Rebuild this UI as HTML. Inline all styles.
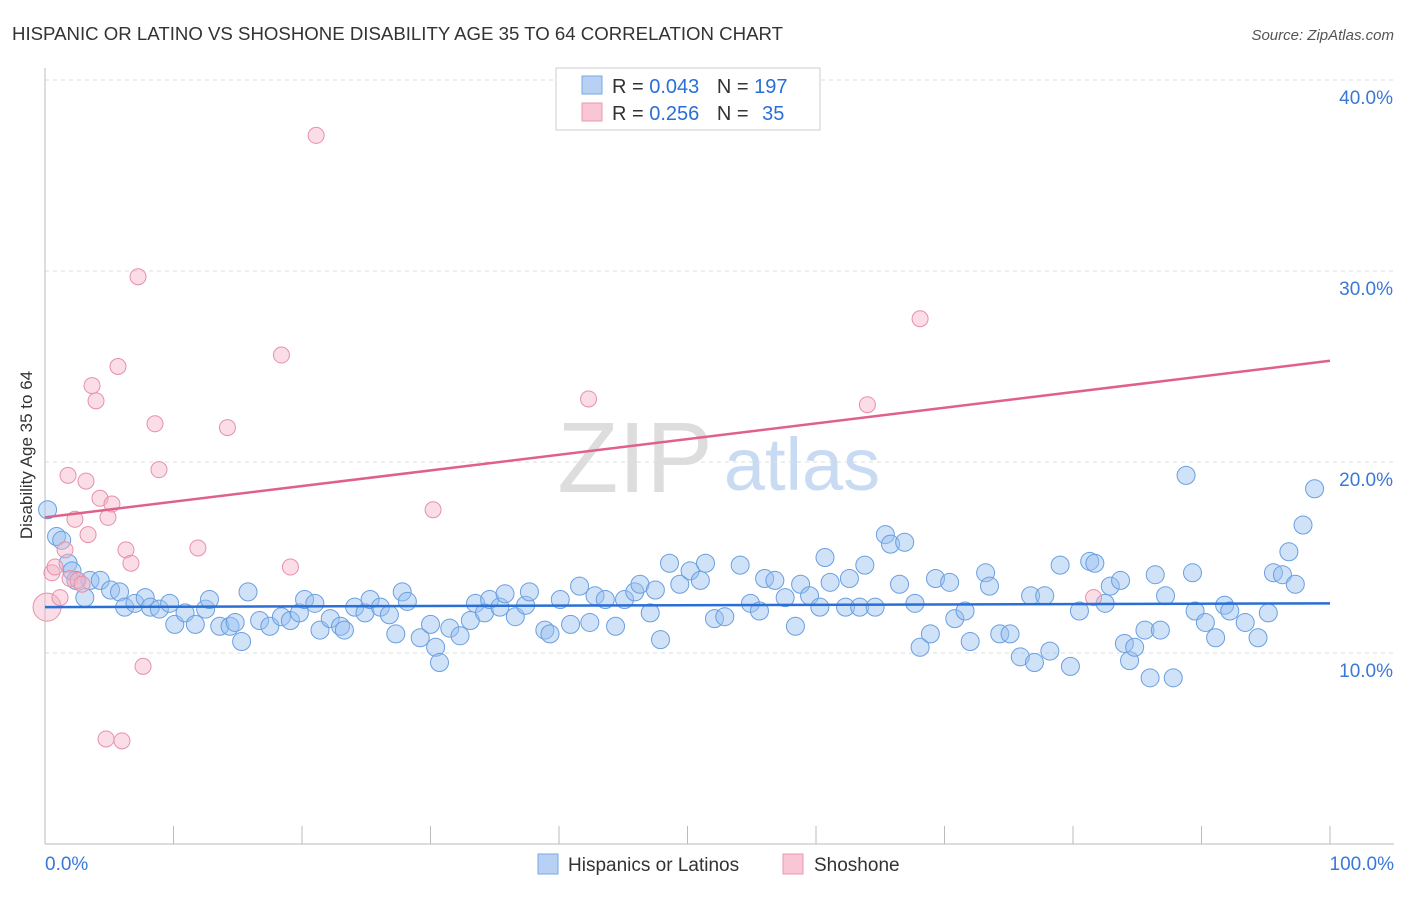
<!DOCTYPE html>
<html><head><meta charset="utf-8"><style>
body{margin:0;background:#fff;font-family:"Liberation Sans",sans-serif;}
svg text{font-family:"Liberation Sans",sans-serif;}
</style></head><body>
<svg id="chart" width="1406" height="892">
<text x="12" y="40" font-size="18" fill="#333" textLength="771" lengthAdjust="spacingAndGlyphs">HISPANIC OR LATINO VS SHOSHONE DISABILITY AGE 35 TO 64 CORRELATION CHART</text>
<text x="1394" y="40" font-size="15" fill="#555" text-anchor="end" font-style="italic">Source: ZipAtlas.com</text>
<text x="32" y="455" font-size="17" fill="#333" text-anchor="middle" transform="rotate(-90 32 455)">Disability Age 35 to 64</text>
<text x="635" y="492" font-size="100" fill="#ddd" text-anchor="middle" font-family="Liberation Serif">ZIP</text>
<text x="802" y="490" font-size="74" fill="#c9dbf3" text-anchor="middle">atlas</text>
<g id="grid"></g><g id="pts"></g><g id="lines"></g>
<g>
<rect x="556" y="68" width="264" height="62" fill="#fff" stroke="#ccc"/>
<rect x="582" y="76" width="20" height="18" fill="#b7d0f3" stroke="#7aa8e4"/>
<text x="612" y="93" font-size="20" fill="#333">R = <tspan fill="#2a6fd6">0.043</tspan>  <tspan dx="12">N = </tspan><tspan fill="#2a6fd6">197</tspan></text>
<rect x="582" y="103" width="20" height="18" fill="#f8c6d4" stroke="#e89ab0"/>
<text x="612" y="120" font-size="20" fill="#333">R =  <tspan fill="#2a6fd6">0.256</tspan>  <tspan dx="12">N = </tspan><tspan fill="#2a6fd6" dx="8">35</tspan></text>
</g>
<g>
<rect x="538" y="854" width="20" height="20" fill="#b7d0f3" stroke="#7aa8e4"/>
<text x="568" y="871" font-size="19" fill="#333">Hispanics or Latinos</text>
<rect x="783" y="854" width="20" height="20" fill="#f8c6d4" stroke="#e89ab0"/>
<text x="814" y="871" font-size="19" fill="#333">Shoshone</text>
</g>
</svg>
<script>
const yTicks=[10,20,30,40];
const xTickLabels=["0.0%","100.0%"];
const blueX=[0.2,0.9,1.3,1.8,2.1,2.4,3.1,3.5,4.3,5.1,5.8,6.2,7.0,7.8,8.2,8.9,9.7,10.1,10.9,11.7,12.5,12.8,13.6,14.4,14.8,15.3,15.8,16.7,17.5,18.4,19.1,19.8,20.2,21.0,21.4,22.2,23.0,23.3,24.1,24.9,25.3,26.1,26.8,27.3,27.8,28.2,29.2,30.0,30.4,30.7,31.5,32.3,33.1,33.5,34.2,34.6,35.4,35.8,36.6,37.4,37.7,38.9,39.3,40.1,40.9,41.6,42.4,42.8,43.6,44.4,45.1,45.9,46.3,47.1,47.5,47.9,48.6,49.4,50.2,51.0,51.4,52.1,52.9,54.1,54.9,55.6,56.0,56.8,57.6,58.4,58.8,59.5,60.3,60.7,61.1,62.3,62.6,63.4,63.8,64.6,65.4,65.8,66.5,66.9,67.7,68.1,68.9,69.3,70.4,70.8,71.6,72.0,73.2,73.5,74.3,75.1,75.9,76.7,77.0,77.8,78.2,79.0,79.8,80.5,81.3,81.7,82.5,82.9,83.7,84.0,84.4,84.8,85.6,86.0,86.4,86.8,87.2,87.8,88.8,89.3,89.5,90.3,91.1,91.8,92.2,93.4,94.4,95.2,95.6,96.3,96.8,97.3,97.9,98.8];
const blueY=[17.5,16.1,15.9,14.7,14.3,13.8,12.9,13.8,13.8,13.3,13.2,12.4,12.6,12.9,12.4,12.3,12.6,11.5,12.1,11.5,12.3,12.8,11.4,11.4,11.6,10.6,13.2,11.7,11.4,11.9,11.7,12.1,12.8,12.6,11.2,11.8,11.4,11.2,12.4,12.1,12.8,12.4,12.0,11.0,13.2,12.7,10.8,11.5,10.3,9.5,11.3,10.9,11.7,12.6,12.1,12.8,12.4,13.1,11.9,12.5,13.2,11.2,11.0,12.8,11.5,13.5,11.6,13.0,12.8,11.4,12.8,13.2,13.6,12.1,13.3,10.7,14.7,13.6,14.3,13.8,14.7,11.8,11.9,14.6,12.6,12.2,13.9,13.8,12.9,11.4,13.6,13.0,12.4,15.0,13.7,12.4,13.9,12.4,14.6,12.4,16.2,15.7,13.6,15.8,12.6,10.3,11.0,13.9,13.7,11.8,12.2,10.6,14.2,13.5,11.0,11.0,9.8,13.0,9.5,13.0,10.1,14.6,9.3,12.2,14.8,14.7,12.6,13.5,13.8,10.5,9.6,10.3,11.2,8.7,14.1,11.2,13.0,8.7,19.3,14.2,12.2,11.6,10.8,12.5,12.2,11.6,10.8,12.1,14.2,14.1,15.3,13.6,16.7,18.6];
const pinkX=[0.16,0.54,0.78,1.17,1.56,1.79,1.95,2.33,2.57,2.88,3.19,3.35,3.66,3.97,4.28,4.9,5.21,5.68,6.3,6.69,7.24,7.63,8.56,8.87,11.9,14.2,18.4,19.1,21.1,30.2,42.3,64.0,68.1,81.6,4.75,5.99];
const pinkY=[12.4,14.2,14.5,12.9,15.4,19.3,13.9,17.0,13.8,13.6,19.0,16.2,24.0,23.2,18.1,17.1,17.8,25.0,15.4,14.7,29.7,9.3,22.0,19.6,15.5,21.8,25.6,14.5,37.1,17.5,23.3,23.0,27.5,12.9,5.5,5.4];
const blueTrend=[12.4,12.6];
const pinkTrend=[17.1,25.3];
const X0=45,X1=1330,YB=844,PY=19.1;
const sx=v=>X0+(X1-X0)*v/100, sy=v=>YB-v*PY;
const NS="http://www.w3.org/2000/svg";
function mk(t,a,p){const e=document.createElementNS(NS,t);for(const k in a)e.setAttribute(k,a[k]);p.appendChild(e);return e;}
const grid=document.getElementById('grid');
mk('line',{x1:X0,x2:1394,y1:80,y2:80,stroke:'#ddd','stroke-dasharray':'4,4'},grid);
yTicks.forEach(t=>{
 const l=mk('line',{x1:X0,x2:1394,y1:sy(t),y2:sy(t),stroke:'#ddd','stroke-dasharray':'4,4'},grid);
 
 
 const tx=mk('text',{x:1393,y:sy(t)+24,'font-size':19,fill:'#3a78d8','text-anchor':'end'},grid);
 tx.textContent=t.toFixed(1)+'%';
 
 
});
mk('line',{x1:X0,x2:X0,y1:68,y2:YB,stroke:'#bbb'},grid);
mk('line',{x1:X0,x2:1394,y1:YB,y2:YB,stroke:'#bbb'},grid);
for(let i=0;i<=10;i++){mk('line',{x1:sx(i*10),x2:sx(i*10),y1:YB,y2:YB-18,stroke:'#bbb'},grid);}
const xl=mk('text',{x:45,y:870,'font-size':19,fill:'#3a78d8'},grid);xl.textContent=xTickLabels[0];


const xr=mk('text',{x:1394,y:870,'font-size':19,fill:'#3a78d8','text-anchor':'end'},grid);xr.textContent=xTickLabels[1];


const pts=document.getElementById('pts');
blueX.forEach((x,i)=>{const c=mk('circle',{cx:sx(x),cy:sy(blueY[i]),r:9,fill:'rgba(150,190,240,0.45)',stroke:'#6a9fe0','stroke-width':1},pts);
 
 });
pinkX.forEach((x,i)=>{const c=mk('circle',{cx:sx(x),cy:sy(pinkY[i]),r:i==0?14:8,fill:'rgba(245,180,200,0.45)',stroke:'#e890a8','stroke-width':1},pts);
 
 });
const lines=document.getElementById('lines');
const bl=mk('line',{x1:sx(0),x2:sx(100),y1:sy(blueTrend[0]),y2:sy(blueTrend[1]),stroke:'#2a6fd6','stroke-width':2.5},lines);


const pl=mk('line',{x1:sx(0),x2:sx(100),y1:sy(pinkTrend[0]),y2:sy(pinkTrend[1]),stroke:'#e0608a','stroke-width':2.5},lines);


</script>
</body></html>
